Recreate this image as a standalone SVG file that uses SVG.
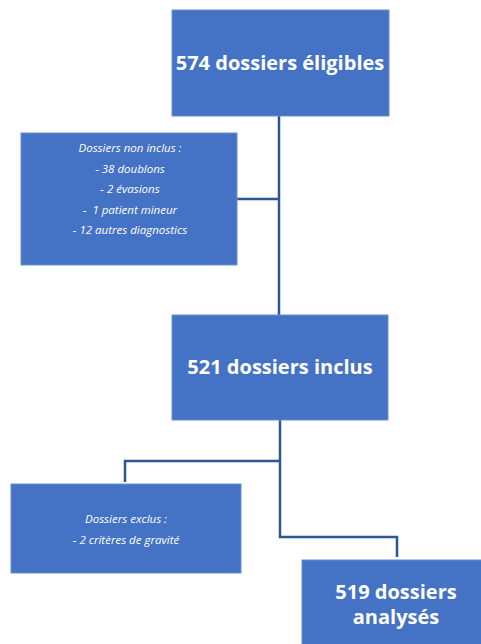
<svg xmlns="http://www.w3.org/2000/svg" width="481" height="644" viewBox="0 0 481 644">
<style>
.box{fill:#4472C4;stroke:#6A8FD0;stroke-width:1}
.big{font-family:"Open Sans","Liberation Sans",sans-serif;font-weight:bold;font-size:20px;fill:#fff;text-anchor:middle}
.small{font-family:"Open Sans","Liberation Sans",sans-serif;font-style:italic;font-size:11.5px;fill:#fff;text-anchor:middle}
.conn{fill:none;stroke:#2F5597;stroke-width:2.5}
</style>
<rect width="481" height="644" fill="#fff"/>
<g id="connectors">
<path class="conn" d="M279 116 V315"/>
<path class="conn" d="M237 199 H279"/>
<path class="conn" d="M280 420 V537 H397 V557"/>
<path class="conn" d="M280 461 H125 V482"/>
</g>
<g id="n1"><rect class="box" x="172" y="10" width="217" height="106"/><text class="big" x="280" y="70">574 dossiers éligibles</text></g>
<g id="n2"><rect class="box" x="21" y="133" width="216" height="132"/>
<text class="small" x="130" y="152">Dossiers non inclus :</text>
<text class="small" x="130" y="173">- 38 doublons</text>
<text class="small" x="130" y="193">- 2 évasions</text>
<text class="small" x="130" y="214" xml:space="preserve">-  1 patient mineur</text>
<text class="small" x="130" y="234">- 12 autres diagnostics</text></g>
<g id="n3"><rect class="box" x="172" y="315" width="216" height="105"/><text class="big" x="280" y="374">521 dossiers inclus</text></g>
<g id="n4"><rect class="box" x="11" y="484" width="230" height="89"/>
<text class="small" x="126" y="523">Dossiers exclus :</text>
<text class="small" x="126" y="544">- 2 critères de gravité</text></g>
<g id="n5"><rect class="box" x="302" y="560" width="180" height="85"/>
<text class="big" x="396" y="599">519 dossiers</text>
<text class="big" x="396" y="624">analysés</text></g>
</svg>
